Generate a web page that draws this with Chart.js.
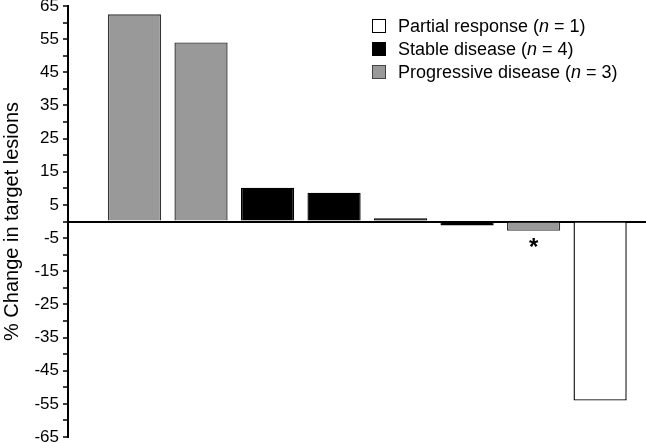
<!DOCTYPE html>
<html>
<head>
<meta charset="utf-8">
<script src="https://cdn.jsdelivr.net/npm/chart.js@4/dist/chart.umd.min.js"></script>
<style>
  body { margin: 0; background: #fff; font-family: "Liberation Sans", Arial, sans-serif; }
  #wrap { position: relative; width: 646px; height: 443px; }
  #legend { position: absolute; left: 372px; top: 15px; font-size: 18px; color: #000; }
  #legend div { height: 23px; line-height: 23px; white-space: nowrap; }
  #legend span.box { display: inline-block; width: 14px; height: 14px; box-sizing: border-box;
    border: 1px solid #000; vertical-align: -1px; margin-right: 12px; }
</style>
</head>
<body>
<div id="wrap">
  <canvas id="chart" width="646" height="443"></canvas>
  <div id="legend">
    <div><span class="box" style="background:#fff"></span>Partial response (<i>n</i> = 1)</div>
    <div><span class="box" style="background:#000"></span>Stable disease (<i>n</i> = 4)</div>
    <div><span class="box" style="background:#999;border-color:#444"></span>Progressive disease (<i>n</i> = 3)</div>
  </div>
</div>
<script>
// one bar per patient, ordered as in the waterfall
const patients = [1, 2, 3, 4, 5, 6, 7, 8];
const changes = [62.5, 54, 10.2, 8.7, 1.0, -1.2, -2.8, -54];
const responses = ['PD', 'PD', 'SD', 'SD', 'SD', 'SD', 'PD', 'PR'];
const markedPatients = [7];   // bars flagged with an asterisk

const fills = { PR: '#ffffff', SD: '#000000', PD: '#999999' };
const borders = { PR: '#000000', SD: '#000000', PD: '#333333' };

const asterisk = {
  id: 'asterisk',
  afterDatasetsDraw(chart) {
    const ctx = chart.ctx;
    const meta = chart.getDatasetMeta(0);
    ctx.save();
    ctx.fillStyle = '#000';
    ctx.font = 'bold 24px "Liberation Sans", Arial, sans-serif';
    ctx.textAlign = 'center';
    ctx.textBaseline = 'top';
    markedPatients.forEach(p => {
      const el = meta.data[patients.indexOf(p)];
      ctx.fillText('*', el.x, Math.max(el.base, el.y) + 6);
    });
    ctx.restore();
  }
};

new Chart(document.getElementById('chart'), {
  type: 'bar',
  data: {
    datasets: [{
      data: patients.map((p, i) => ({ x: p, y: changes[i] })),
      backgroundColor: responses.map(r => fills[r]),
      borderColor: responses.map(r => borders[r]),
      borderWidth: 1.4,
      barPercentage: 0.8,
      categoryPercentage: 1.0
    }]
  },
  options: {
    responsive: false,
    animation: false,
    layout: { padding: { top: 6, right: 0, bottom: 6, left: 0 } },
    plugins: { legend: { display: false }, tooltip: { enabled: false } },
    scales: {
      x: {
        type: 'linear', min: 0, max: 8.69, display: false, offset: false,
        ticks: { stepSize: 1 },
        afterBuildTicks(scale) { scale.ticks = scale.ticks.filter(t => Number.isInteger(t.value)); }
      },
      y: {
        min: -65, max: 65,
        afterFit(scale) {
          scale.width = 68;
          scale.paddingTop = 0;
          scale.paddingBottom = 0;
        },
        ticks: {
          stepSize: 5, autoSkip: false, padding: 4, color: '#000',
          font: { size: 17, family: '"Liberation Sans", Arial, sans-serif' },
          callback: v => (v % 10 !== 0 ? v : '')
        },
        grid: {
          color: c => (c.tick && c.tick.value === 0 ? '#000' : 'rgba(0,0,0,0)'),
          lineWidth: 2, tickColor: '#000', tickLength: 5, tickWidth: 1.5
        },
        border: { color: '#000', width: 2 },
        title: {
          display: true, text: '% Change in target lesions', color: '#000',
          font: { size: 20, family: '"Liberation Sans", Arial, sans-serif' }, padding: 0
        }
      }
    }
  },
  plugins: [asterisk]
});
</script>
</body>
</html>
